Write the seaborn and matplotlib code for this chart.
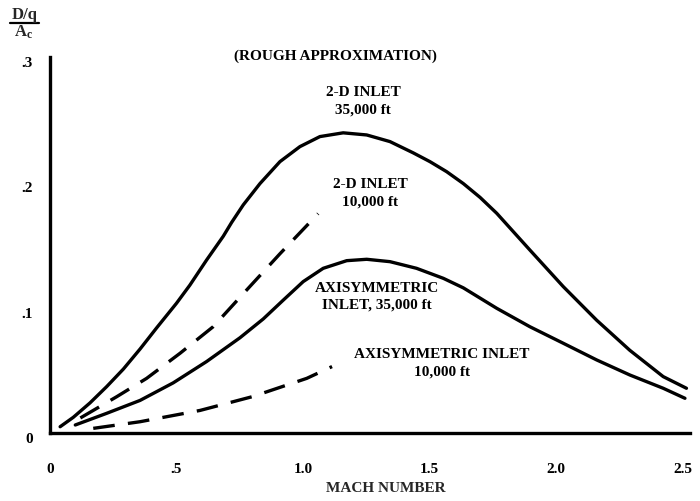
import matplotlib
matplotlib.use("Agg")
import matplotlib.pyplot as plt
import matplotlib.transforms as mtransforms
from matplotlib.lines import Line2D
import seaborn as sns

# Drag coefficient D/q/Ac vs Mach number for four inlet configurations
mach_2d_35k = [0.04, 0.092, 0.158, 0.224, 0.29, 0.356, 0.422, 0.50, 0.553, 0.619,
               0.685, 0.718, 0.764, 0.830, 0.909, 0.988, 1.067, 1.159, 1.252, 1.344,
               1.436, 1.502, 1.568, 1.634, 1.70, 1.766, 1.897, 2.029, 2.161, 2.292,
               2.424, 2.516]
drag_2d_35k = [0.005, 0.0125, 0.024, 0.037, 0.051, 0.067, 0.084, 0.1035, 0.118, 0.138,
               0.157, 0.168, 0.182, 0.199, 0.2165, 0.2285, 0.2365, 0.2395, 0.2378, 0.2325,
               0.2235, 0.2165, 0.2085, 0.199, 0.188, 0.1753, 0.146, 0.1168, 0.090, 0.066,
               0.045, 0.0357]

mach_axi_35k = [0.10, 0.224, 0.356, 0.487, 0.619, 0.751, 0.843, 0.922, 1.001, 1.080,
                1.173, 1.252, 1.344, 1.449, 1.555, 1.634, 1.766, 1.897, 2.029, 2.161,
                2.292, 2.424, 2.51]
drag_axi_35k = [0.0064, 0.0157, 0.026, 0.040, 0.057, 0.076, 0.091, 0.106, 0.1208, 0.1314,
                0.1375, 0.1386, 0.1367, 0.1314, 0.1234, 0.1158, 0.0995, 0.0848, 0.0716, 0.0583,
                0.0463, 0.0357, 0.0277]

mach_2d_10k = [0.12, 0.264, 0.382, 0.514, 0.645, 0.777, 0.909, 1.06]
drag_2d_10k = [0.012, 0.029, 0.0436, 0.0636, 0.0848, 0.114, 0.143, 0.175]

mach_axi_10k = [0.171, 0.356, 0.593, 0.80, 1.015, 1.115]
drag_axi_10k = [0.0037, 0.009, 0.018, 0.029, 0.0436, 0.053]

x_ticks = [0, 0.5, 1.0, 1.5, 2.0, 2.5]
x_tick_labels = ["0", ".5", "1.0", "1.5", "2.0", "2.5"]
y_ticks = [0, 0.1, 0.2, 0.3]
y_tick_labels = ["0", ".1", ".2", ".3"]

sns.set_style("white")
plt.rcParams["font.family"] = ["Liberation Serif", "DejaVu Serif"]
plt.rcParams["font.weight"] = "bold"
plt.rcParams["mathtext.fontset"] = "custom"
plt.rcParams["mathtext.rm"] = "Liberation Serif:bold"
plt.rcParams["mathtext.bf"] = "Liberation Serif:bold"
plt.rcParams["mathtext.it"] = "Liberation Serif:bold"

fig = plt.figure(figsize=(7.0, 5.01), dpi=100)
ax = fig.add_axes([50 / 700, 68 / 501, 640 / 700, 376 / 501])

lw = 2.4
dash = (0, (6.5, 4.0))
sns.lineplot(x=mach_2d_35k, y=drag_2d_35k, ax=ax, color="black", lw=lw, estimator=None)
sns.lineplot(x=mach_axi_35k, y=drag_axi_35k, ax=ax, color="black", lw=lw, estimator=None)
sns.lineplot(x=mach_2d_10k, y=drag_2d_10k, ax=ax, color="black", lw=lw,
             linestyle=dash, estimator=None)
sns.lineplot(x=mach_axi_10k, y=drag_axi_10k, ax=ax, color="black", lw=lw,
             linestyle=dash, estimator=None)

ax.set_xlim(0, 2.53)
ax.set_ylim(0, 0.3)
for side in ("top", "right"):
    ax.spines[side].set_visible(False)
for side in ("left", "bottom"):
    ax.spines[side].set_linewidth(2.4)
    ax.spines[side].set_color("black")
    ax.spines[side].set_clip_on(False)

ax.set_xticks(x_ticks)
ax.set_xticklabels(x_tick_labels)
ax.set_yticks(y_ticks)
ax.set_yticklabels(y_tick_labels)
ax.tick_params(axis="both", direction="inout", length=11, width=2.2, colors="black",
               labelsize=11)
ax.tick_params(axis="x", pad=16)
ax.tick_params(axis="y", pad=7)
for lbl in ax.get_xticklabels() + ax.get_yticklabels():
    lbl.set_fontweight("bold")
shift = mtransforms.ScaledTranslation(0, -5 / 100, fig.dpi_scale_trans)
for lbl in ax.get_yticklabels():
    lbl.set_transform(lbl.get_transform() + shift)

ax.set_xlabel("MACH NUMBER", fontsize=11, fontweight="bold")
ax.xaxis.set_label_coords(336 / 640, -56 / 376)
ax.xaxis.label.set_va("center")

# Curve annotations
def px(x, y):
    return ((x - 50) / 640, (433 - y) / 376)

notes = [
    ("(ROUGH APPROXIMATION)", 335, 56),
    ("2-D INLET", 363, 92),
    ("35,000 ft", 363, 110),
    ("2-D INLET", 370, 184),
    ("10,000 ft", 370, 202),
    ("AXISYMMETRIC", 377, 288),
    ("INLET, 35,000 ft", 377, 305),
    ("AXISYMMETRIC INLET", 442, 355),
    ("10,000 ft", 442, 372),
]
for txt, x, y in notes:
    ax.text(*px(x, y), txt, transform=ax.transAxes, ha="center", va="center",
            fontsize=11, fontweight="bold", color="black")

# Ordinate label as a fraction
fig.text(25 / 700, 1 - 15 / 501, "D/q", ha="center", va="center", fontsize=12,
         fontweight="bold")
fig.add_artist(Line2D([10 / 700, 39 / 700], [1 - 23 / 501, 1 - 23 / 501],
                      color="black", lw=1.6, transform=fig.transFigure))
fig.text(24 / 700, 1 - 32 / 501, r"$\mathbf{A_c}$", ha="center", va="center",
         fontsize=12)

fig.savefig("out.png", dpi=100)
